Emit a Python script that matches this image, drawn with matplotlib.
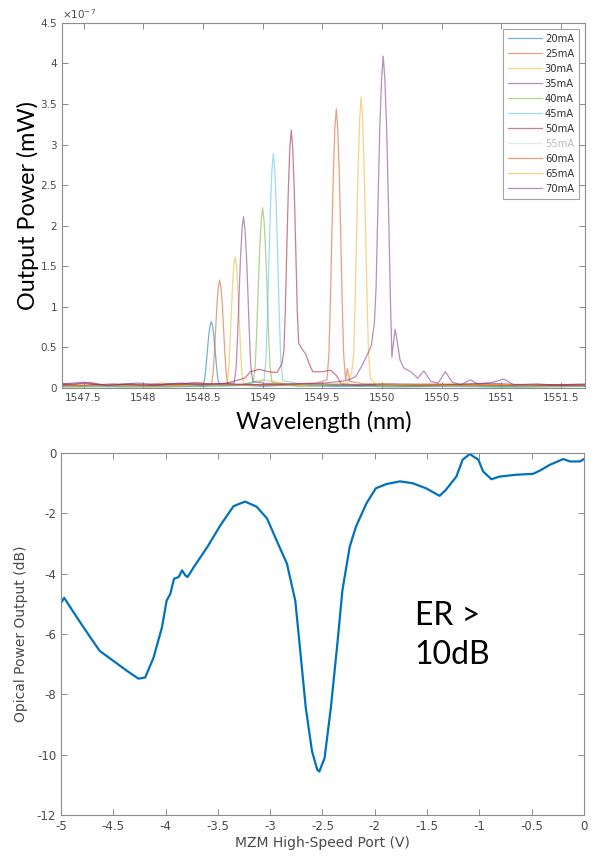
import matplotlib.pyplot as plt
from matplotlib.ticker import FixedLocator

# ---- top panel: laser spectra (power in units of 1e-7 mW) ----
currents = ["20mA", "25mA", "30mA", "35mA", "40mA", "45mA", "50mA",
            "55mA", "60mA", "65mA", "70mA"]

wl_20 = [1547.32, 1547.45, 1547.6, 1547.8, 1548.0, 1548.2, 1548.35, 1548.45,
         1548.50, 1548.514, 1548.525, 1548.537, 1548.548, 1548.559, 1548.57, 1548.581, 1548.592,
         1548.603, 1548.615, 1548.626, 1548.64,
         1548.8, 1549.0, 1549.3, 1549.6, 1549.9, 1550.2, 1550.6, 1551.0, 1551.4, 1551.7]
p_20 = [0.03, 0.02, 0.04, 0.02, 0.03, 0.02, 0.04, 0.03,
        0.03, 0.1, 0.25, 0.45, 0.64, 0.76, 0.82, 0.76, 0.64,
        0.45, 0.25, 0.1, 0.03,
        0.04, 0.02, 0.05, 0.02, 0.03, 0.02, 0.03, 0.02, 0.03, 0.02]

wl_25 = [1547.32, 1547.42, 1547.55, 1547.7, 1547.85, 1548.0, 1548.15, 1548.3, 1548.45,
         1548.57, 1548.584, 1548.595, 1548.607, 1548.618, 1548.629, 1548.64, 1548.651, 1548.662,
         1548.673, 1548.685, 1548.696, 1548.71,
         1548.85, 1549.1, 1549.4, 1549.7, 1550.0, 1550.4, 1550.8, 1551.2, 1551.7]
p_25 = [0.06, 0.04, 0.07, 0.03, 0.05, 0.03, 0.06, 0.04, 0.07,
        0.04, 0.16, 0.4, 0.73, 1.04, 1.24, 1.33, 1.24, 1.04,
        0.73, 0.4, 0.16, 0.04,
        0.04, 0.03, 0.05, 0.03, 0.04, 0.03, 0.05, 0.03, 0.04]

wl_30 = [1547.32, 1547.6, 1547.9, 1548.2, 1548.5,
         1548.70, 1548.714, 1548.725, 1548.737, 1548.748, 1548.759, 1548.77, 1548.781, 1548.792,
         1548.803, 1548.815, 1548.826, 1548.84,
         1549.0, 1549.3, 1549.6, 1549.9, 1550.3, 1550.7, 1551.1, 1551.4, 1551.7]
p_30 = [0.02, 0.03, 0.02, 0.03, 0.02,
        0.05, 0.19, 0.49, 0.89, 1.26, 1.51, 1.62, 1.51, 1.26,
        0.89, 0.49, 0.19, 0.05,
        0.1, 0.03, 0.04, 0.02, 0.04, 0.03, 0.02, 0.04, 0.02]

wl_35 = [1547.32, 1547.5, 1547.7, 1547.95, 1548.15, 1548.4, 1548.6,
         1548.762, 1548.778, 1548.79, 1548.803, 1548.816, 1548.828, 1548.84, 1548.852, 1548.864,
         1548.877, 1548.89, 1548.902, 1548.918,
         1549.0, 1549.2, 1549.5, 1549.8, 1550.1, 1550.5, 1550.9, 1551.3, 1551.7]
p_35 = [0.05, 0.07, 0.03, 0.06, 0.04, 0.06, 0.05,
        0.06, 0.25, 0.63, 1.16, 1.65, 1.96, 2.11, 1.96, 1.65,
        1.16, 0.63, 0.25, 0.08,
        0.06, 0.04, 0.05, 0.03, 0.05, 0.04, 0.06, 0.03, 0.05]

wl_40 = [1547.32, 1547.7, 1548.1, 1548.5, 1548.8,
         1548.922, 1548.938, 1548.95, 1548.963, 1548.976, 1548.988, 1549.0, 1549.012, 1549.024,
         1549.037, 1549.05, 1549.062, 1549.078,
         1549.3, 1549.7, 1550.1, 1550.5, 1551.0, 1551.7]
p_40 = [0.01, 0.02, 0.01, 0.02, 0.03,
        0.07, 0.27, 0.67, 1.22, 1.73, 2.06, 2.22, 2.06, 1.73,
        1.22, 0.67, 0.27, 0.07,
        0.02, 0.03, 0.01, 0.02, 0.01, 0.02]

wl_45 = [1547.32, 1547.8, 1548.3, 1548.8,
         1549.012, 1549.028, 1549.04, 1549.053, 1549.066, 1549.078, 1549.09, 1549.102, 1549.114,
         1549.127, 1549.14, 1549.152, 1549.168,
         1549.4, 1549.8, 1550.2, 1550.7, 1551.2, 1551.7]
p_45 = [0.02, 0.01, 0.02, 0.03,
        0.09, 0.35, 0.87, 1.59, 2.25, 2.69, 2.89, 2.69, 2.25,
        1.59, 0.87, 0.35, 0.09,
        0.03, 0.02, 0.03, 0.02, 0.01, 0.02]

wl_50 = [1547.32, 1547.5, 1547.75, 1548.0, 1548.25, 1548.5, 1548.7, 1548.85, 1548.9, 1548.97,
         1549.05, 1549.12, 1549.162, 1549.178, 1549.19, 1549.203, 1549.216, 1549.228, 1549.24,
         1549.252, 1549.264, 1549.277, 1549.29, 1549.302, 1549.33, 1549.36, 1549.39, 1549.42,
         1549.5, 1549.57, 1549.62, 1549.66, 1549.8, 1550.0, 1550.3, 1550.7, 1551.1, 1551.5, 1551.7]
p_50 = [0.04, 0.03, 0.05, 0.03, 0.05, 0.04, 0.06, 0.12, 0.2, 0.23,
        0.2, 0.19, 0.3, 0.45, 0.95, 1.75, 2.48, 2.96, 3.18,
        2.96, 2.48, 1.75, 0.95, 0.55, 0.48, 0.42, 0.3, 0.2,
        0.2, 0.22, 0.15, 0.05, 0.04, 0.05, 0.03, 0.04, 0.03, 0.04, 0.03]

wl_55 = [1547.32, 1547.8, 1548.3, 1548.8, 1549.3, 1549.8, 1550.3, 1550.8, 1551.3, 1551.7]
p_55 = [0.02, 0.03, 0.02, 0.03, 0.02, 0.03, 0.02, 0.03, 0.02, 0.03]

wl_60 = [1547.32, 1547.7, 1548.1, 1548.5, 1548.9, 1549.2, 1549.45,
         1549.539, 1549.555, 1549.567, 1549.58, 1549.593, 1549.605, 1549.617, 1549.629, 1549.641,
         1549.654, 1549.667, 1549.679, 1549.695,
         1549.71, 1549.73, 1549.85, 1550.1, 1550.5, 1550.9, 1551.3, 1551.7]
p_60 = [0.03, 0.04, 0.03, 0.05, 0.04, 0.05, 0.06,
        0.1, 0.41, 1.03, 1.89, 2.68, 3.2, 3.44, 3.2, 2.68,
        1.89, 1.03, 0.41, 0.1,
        0.24, 0.08, 0.05, 0.04, 0.05, 0.03, 0.04, 0.03]

wl_65 = [1547.32, 1547.7, 1548.1, 1548.5, 1548.9, 1549.3, 1549.6, 1549.71,
         1549.747, 1549.763, 1549.775, 1549.788, 1549.801, 1549.813, 1549.825, 1549.837, 1549.849,
         1549.862, 1549.875, 1549.887, 1549.903,
         1549.95, 1550.2, 1550.6, 1551.0, 1551.4, 1551.7]
p_65 = [0.02, 0.03, 0.02, 0.04, 0.03, 0.04, 0.05, 0.06,
        0.2, 0.43, 1.07, 1.97, 2.79, 3.33, 3.58, 3.33, 2.79,
        1.97, 1.07, 0.43, 0.11,
        0.05, 0.04, 0.03, 0.04, 0.02, 0.03]

wl_70 = [1547.32, 1547.5, 1547.7, 1547.9, 1548.1, 1548.3, 1548.5, 1548.7, 1549.0, 1549.3,
         1549.5, 1549.65, 1549.72, 1549.78, 1549.83, 1549.88, 1549.91, 1549.936, 1549.95, 1549.966,
         1549.981, 1549.996, 1550.01, 1550.024, 1550.039, 1550.054, 1550.07, 1550.083, 1550.095,
         1550.11, 1550.125, 1550.15, 1550.18, 1550.24, 1550.3, 1550.35, 1550.41, 1550.47, 1550.53,
         1550.59, 1550.66, 1550.74, 1550.8, 1550.9, 1551.02, 1551.1, 1551.3, 1551.5, 1551.7]
p_70 = [0.04, 0.06, 0.03, 0.05, 0.03, 0.06, 0.04, 0.05, 0.04, 0.05,
        0.06, 0.08, 0.1, 0.14, 0.27, 0.42, 0.52, 0.8, 1.23, 2.25,
        3.19, 3.8, 4.09, 3.8, 3.19, 2.25, 1.1, 0.38, 0.55,
        0.72, 0.6, 0.35, 0.25, 0.2, 0.12, 0.21, 0.08, 0.06, 0.2,
        0.07, 0.04, 0.1, 0.05, 0.06, 0.11, 0.04, 0.05, 0.03, 0.04]

spectra_wl = [wl_20, wl_25, wl_30, wl_35, wl_40, wl_45, wl_50, wl_55, wl_60, wl_65, wl_70]
spectra_p = [p_20, p_25, p_30, p_35, p_40, p_45, p_50, p_55, p_60, p_65, p_70]

# MATLAB default colour order
matlab_colors = [(0, 0.447, 0.741), (0.85, 0.325, 0.098), (0.929, 0.694, 0.125),
                 (0.494, 0.184, 0.556), (0.466, 0.674, 0.188), (0.301, 0.745, 0.933),
                 (0.635, 0.078, 0.184)]

# ---- bottom panel: MZM transfer curve ----
bias_v = [-5.0, -4.97, -4.85, -4.72, -4.63, -4.5, -4.37, -4.26, -4.195, -4.115,
          -4.035, -3.99, -3.955, -3.92, -3.875, -3.843, -3.81, -3.79, -3.73, -3.6,
          -3.475, -3.35, -3.24, -3.13, -3.03, -2.94, -2.84, -2.76, -2.72, -2.66,
          -2.6, -2.55, -2.53, -2.48, -2.42, -2.355, -2.31, -2.24, -2.18, -2.08,
          -1.99, -1.89, -1.76, -1.64, -1.51, -1.38, -1.32, -1.22, -1.16, -1.09,
          -1.06, -1.01, -0.965, -0.885, -0.805, -0.645, -0.486, -0.42, -0.326, -0.198,
          -0.134, -0.038, 0.0]
opt_db = [-4.97, -4.8, -5.44, -6.11, -6.56, -6.89, -7.22, -7.48, -7.44, -6.78,
          -5.78, -4.89, -4.67, -4.17, -4.11, -3.89, -4.06, -4.11, -3.78, -3.11,
          -2.39, -1.76, -1.61, -1.78, -2.17, -2.89, -3.67, -4.9, -6.3, -8.44,
          -9.89, -10.5, -10.56, -10.11, -8.44, -6.22, -4.56, -3.11, -2.44, -1.67,
          -1.17, -1.03, -0.94, -1.0, -1.17, -1.42, -1.22, -0.78, -0.22, -0.03,
          -0.11, -0.22, -0.61, -0.87, -0.78, -0.72, -0.69, -0.58, -0.39, -0.2,
          -0.28, -0.28, -0.2]

spine_col = "#8c8c8c"
tick_col = "#4a4a4a"


def style_axes(ax, size):
    for s in ax.spines.values():
        s.set_color(spine_col)
        s.set_linewidth(0.8)
    ax.tick_params(direction="in", length=4, width=0.7, color=spine_col,
                   labelcolor=tick_col, labelsize=size, top=True, right=True)


fig = plt.figure(figsize=(5.97, 8.57), dpi=100)

# top panel
ax1 = fig.add_axes([0.1039, 0.5473, 0.876, 0.426])
for i in range(len(currents)):
    col = matlab_colors[i % 7]
    alpha = 0.15 if currents[i] == "55mA" else 0.55
    ax1.plot(spectra_wl[i], spectra_p[i], color=col, lw=0.9, alpha=alpha, label=currents[i])
ax1.set_xlim(1547.32, 1551.7)
ax1.set_ylim(0, 4.5)
xt = [1547.5, 1548, 1548.5, 1549, 1549.5, 1550, 1550.5, 1551, 1551.5]
yt = [0, 0.5, 1, 1.5, 2, 2.5, 3, 3.5, 4, 4.5]
ax1.xaxis.set_major_locator(FixedLocator(xt))
ax1.yaxis.set_major_locator(FixedLocator(yt))
ax1.set_xticklabels([f"{v:g}" for v in xt])
ax1.set_yticklabels([f"{v:g}" for v in yt])
style_axes(ax1, 7.5)
ax1.text(0.0, 1.005, r"$\times$10$^{-7}$", transform=ax1.transAxes, fontsize=7.5,
         color=tick_col, ha="left", va="bottom")
ax1.set_xlabel("Wavelength (nm)", fontsize=16.8, family="Lato", color="black", labelpad=6)
ax1.set_ylabel("Output Power (mW)", fontsize=16.8, family="Lato", color="black", labelpad=1)
leg = ax1.legend(loc="upper right", fontsize=7.2, handlelength=3.4, labelspacing=0.5,
                 fancybox=False, borderaxespad=0.6, handletextpad=0.3, borderpad=0.5)
leg.get_frame().set_edgecolor(spine_col)
leg.get_frame().set_linewidth(0.8)
for t in leg.get_texts():
    t.set_color("#bbbbbb" if t.get_text() == "55mA" else "#333333")

# bottom panel
ax2 = fig.add_axes([0.1022, 0.049, 0.876, 0.4224])
ax2.plot(bias_v, opt_db, color=(0, 0.447, 0.741), lw=1.6)
ax2.set_xlim(-5, 0)
ax2.set_ylim(-12, 0)
bx = [-5, -4.5, -4, -3.5, -3, -2.5, -2, -1.5, -1, -0.5, 0]
by = [-12, -10, -8, -6, -4, -2, 0]
ax2.xaxis.set_major_locator(FixedLocator(bx))
ax2.yaxis.set_major_locator(FixedLocator(by))
ax2.set_xticklabels([f"{v:g}" for v in bx])
ax2.set_yticklabels([f"{v:g}" for v in by])
style_axes(ax2, 8.5)
ax2.set_xlabel("MZM High-Speed Port (V)", fontsize=10, color=tick_col, labelpad=2)
ax2.set_ylabel("Opical Power Output (dB)", fontsize=10, color=tick_col, labelpad=6)
ax2.text(-1.62, -4.9, "ER >\n10dB", fontsize=23, family="Lato", color="black",
         ha="left", va="top", linespacing=1.4)

fig.savefig("out.png", dpi=100)
